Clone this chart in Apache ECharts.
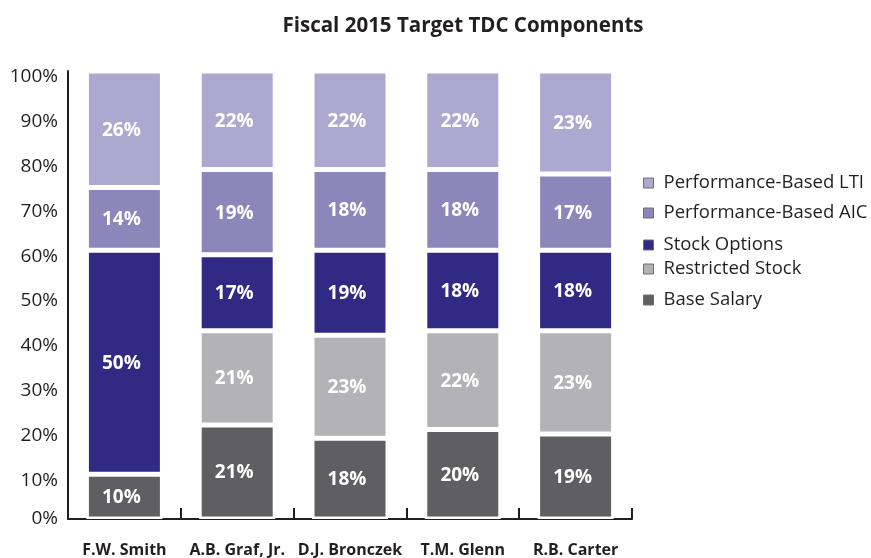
<!DOCTYPE html>
<html>
<head>
<meta charset="utf-8">
<script src="https://cdn.jsdelivr.net/npm/echarts@6/dist/echarts.min.js"></script>
<style>
  html, body { margin: 0; padding: 0; background: #ffffff; }
  #chart { width: 871px; height: 558px; }
</style>
</head>
<body>
<div id="chart"></div>
<script>
// Executives shown on the category axis
const executives = ['F.W. Smith', 'A.B. Graf, Jr.', 'D.J. Bronczek', 'T.M. Glenn', 'R.B. Carter'];

// Share of target total direct compensation, percent (stacked bottom to top)
const baseSalary      = [10, 21, 18, 20, 19];
const restrictedStock = [0, 21, 23, 22, 23];
const stockOptions    = [50, 17, 19, 18, 18];
const perfBasedAIC    = [14, 19, 18, 18, 17];
const perfBasedLTI    = [26, 22, 22, 22, 23];

const yTicks = [0, 10, 20, 30, 40, 50, 60, 70, 80, 90, 100];

const FONT = '"Open Sans", "Noto Sans", sans-serif';
const INK = '#231f20';

const seriesDefs = [
  { name: 'Base Salary',           data: baseSalary,      color: '#5f5f61' },
  { name: 'Restricted Stock',      data: restrictedStock, color: '#b3b3b6' },
  { name: 'Stock Options',         data: stockOptions,    color: '#312a85' },
  { name: 'Performance-Based AIC', data: perfBasedAIC,    color: '#8d86bb' },
  { name: 'Performance-Based LTI', data: perfBasedLTI,    color: '#ada8cf' }
];

// Legend rows listed top to bottom, each with its own vertical position
const legendRows = [
  { name: 'Performance-Based LTI', top: 173 },
  { name: 'Performance-Based AIC', top: 203 },
  { name: 'Stock Options',         top: 235 },
  { name: 'Restricted Stock',      top: 259 },
  { name: 'Base Salary',           top: 290 }
];

const chart = echarts.init(document.getElementById('chart'), null, { renderer: 'canvas' });

chart.setOption({
  backgroundColor: '#ffffff',
  animation: false,
  title: {
    text: 'Fiscal 2015 Target TDC Components',
    left: 458,
    textAlign: 'center',
    top: 11,
    textStyle: { fontFamily: FONT, fontWeight: 'bold', fontSize: 20.5, color: INK }
  },
  legend: legendRows.map(r => ({
    data: [r.name],
    left: 643,
    top: r.top,
    orient: 'vertical',
    icon: 'rect',
    itemWidth: 10,
    itemHeight: 10,
    itemGap: 0,
    selectedMode: false,
    padding: 0,
    itemStyle: { borderColor: '#6d6d70', borderWidth: 1 },
    textStyle: { fontFamily: FONT, fontSize: 18.5, lineHeight: 20, color: INK, padding: [0, 0, 0, 5] }
  })),
  grid: { left: 68, right: 239, top: 71, bottom: 39, containLabel: false },
  xAxis: {
    type: 'category',
    data: executives,
    axisLine: { lineStyle: { color: INK, width: 2 } },
    axisTick: { show: true, inside: true, length: 11, lineStyle: { color: INK, width: 2 } },
    axisLabel: {
      fontFamily: FONT, fontWeight: 'bold', fontSize: 16, color: INK, margin: 23,
      interval: 0
    }
  },
  yAxis: {
    type: 'value',
    min: 0,
    max: 100,
    interval: 10,
    axisLine: { show: true, lineStyle: { color: INK, width: 2 } },
    axisTick: { show: false },
    splitLine: { show: false },
    axisLabel: {
      fontFamily: FONT, fontSize: 19, color: INK, margin: 10,
      formatter: v => {
        if (!yTicks.includes(v)) return '';
        return v === 0 ? '{z|' + v + '%}' : '{p|' + v + '%}';
      },
      rich: {
        z: { fontFamily: FONT, fontSize: 19, color: INK },
        p: { fontFamily: FONT, fontSize: 19, color: INK, padding: [12, 0, 0, 0] }
      }
    }
  },
  series: seriesDefs.map(s => ({
    name: s.name,
    type: 'bar',
    stack: 'tdc',
    barWidth: 76,
    data: s.data.map(v => (v === 0 ? null : v)),
    itemStyle: { color: s.color, borderColor: '#ffffff', borderWidth: 2.5 },
    label: {
      show: true,
      position: 'inside',
      offset: [-3, 1],
      formatter: p => p.value + '%',
      fontFamily: FONT,
      fontWeight: 'bold',
      fontSize: 19,
      color: '#ffffff'
    },
    emphasis: { disabled: true }
  }))
});
</script>
</body>
</html>
